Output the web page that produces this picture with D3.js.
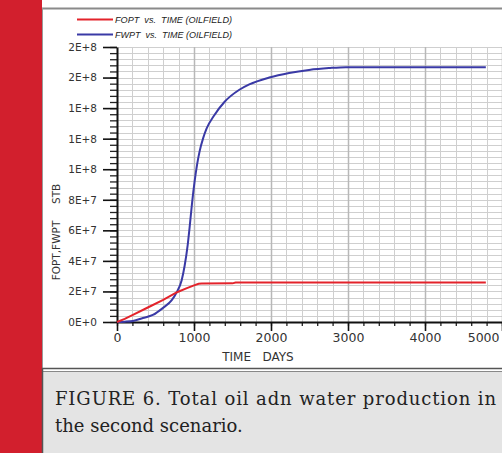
<!DOCTYPE html>
<html>
<head>
<meta charset="utf-8">
<script src="https://cdn.jsdelivr.net/npm/d3@7"></script>
<style>
  body { margin: 0; background: #fff; }
  svg { display: block; }
  .axis text { font-family: "DejaVu Sans", sans-serif; fill: #333; }
</style>
</head>
<body>
<main></main>
<script>
const width = 502;
const height = 453;

// FOPT (oil) cumulative
const foptDays = [0, 100, 200, 400, 600, 780, 900, 1000, 1060, 1100, 1500, 1540, 4790];
const foptValues = [0, 0.2e7, 0.45e7, 0.95e7, 1.45e7, 1.95e7, 2.2e7, 2.4e7, 2.5e7, 2.52e7, 2.53e7, 2.58e7, 2.58e7];

// FWPT (water) cumulative
const fwptDays = [0, 100, 207, 336, 465, 594, 711, 775, 840, 879, 917, 943, 975, 1008, 1040, 1072, 1120, 1163, 1266, 1395, 1589, 1718, 1977, 2235, 2494, 2752, 2972, 4790];
const fwptValues = [0, 0.02e7, 0.07e7, 0.26e7, 0.46e7, 0.91e7, 1.43e7, 1.95e7, 2.74e7, 3.7e7, 5.0e7, 6.2e7, 7.8e7, 9.2e7, 10.3e7, 11.15e7, 12.05e7, 12.65e7, 13.55e7, 14.4e7, 15.2e7, 15.55e7, 16.0e7, 16.3e7, 16.5e7, 16.62e7, 16.68e7, 16.68e7];

const xTickValues = [0, 1000, 2000, 3000, 4000, 5000];
const xTickLabels = ['0', '1000', '2000', '3000', '4000', '5000'];
const yTickValues = [0, 2e7, 4e7, 6e7, 8e7, 10e7, 12e7, 14e7, 16e7, 18e7];
const yTickLabels = ['0E+0', '2E+7', '4E+7', '6E+7', '8E+7', '1E+8', '1E+8', '1E+8', '2E+8', '2E+8'];

const legendLabels = ['FOPT  vs.  TIME (OILFIELD)', 'FWPT  vs.  TIME (OILFIELD)'];
const seriesColors = ['#e3232b', '#3a3aa6'];
const captionLines = ['FIGURE 6. Total oil adn water production in', 'the second scenario.'];

const svg = d3.select('main')
  .append('svg')
  .attr('width', width)
  .attr('height', height);

// page frame: red stripe, white panel, caption box
svg.append('rect').attr('x', 0).attr('y', 0).attr('width', width).attr('height', height).attr('fill', '#fff');
svg.append('rect').attr('x', 0).attr('y', 0).attr('width', 42).attr('height', height).attr('fill', '#d21f2d');
svg.append('line').attr('x1', 42).attr('x2', width).attr('y1', 8.5).attr('y2', 8.5).attr('stroke', '#8a8a8a').attr('stroke-width', 2);
svg.append('line').attr('x1', 42.5).attr('x2', 42.5).attr('y1', 8).attr('y2', height).attr('stroke', '#9a9a9a').attr('stroke-width', 1);
svg.append('rect').attr('x', 43).attr('y', 372).attr('width', width - 43).attr('height', height - 372).attr('fill', '#e4e4e4');
svg.append('line').attr('x1', 42).attr('x2', width).attr('y1', 368.5).attr('y2', 368.5).attr('stroke', '#555').attr('stroke-width', 1.5);
svg.append('line').attr('x1', 42).attr('x2', width).attr('y1', 371.5).attr('y2', 371.5).attr('stroke', '#888').attr('stroke-width', 1);
svg.append('line').attr('x1', 42.5).attr('x2', 42.5).attr('y1', 368).attr('y2', height).attr('stroke', '#555').attr('stroke-width', 1.5);

// caption, first line justified to the box width
const caption = svg.append('g')
  .attr('font-family', '"DejaVu Serif", serif')
  .attr('font-size', 18)
  .attr('fill', '#222');
caption.selectAll('text')
  .data(captionLines)
  .enter()
  .append('text')
  .attr('x', 55)
  .attr('y', (d, i) => 405 + i * 27)
  .each(function (d, i) {
    if (i === 0) d3.select(this).attr('textLength', 441).attr('lengthAdjust', 'spacing');
  })
  .text((d) => d);

const xScale = d3.scaleLinear().domain([0, 5000]).range([117, 502]);
const yScale = d3.scaleLinear().domain([0, 1.8e8]).range([322, 47]);

// grid
const grid = svg.append('g');
grid.selectAll('.hgrid')
  .data(d3.range(4e6, 1.8e8 + 1, 4e6))
  .enter()
  .append('line')
  .attr('x1', 117).attr('x2', width)
  .attr('y1', (d) => Math.round(yScale(d)) + 0.5)
  .attr('y2', (d) => Math.round(yScale(d)) + 0.5)
  .attr('stroke', '#cfcfcf')
  .attr('stroke-width', 1);
grid.selectAll('.vgrid')
  .data(d3.range(200, 5001, 200))
  .enter()
  .append('line')
  .attr('x1', (d) => Math.round(xScale(d)) + 0.5)
  .attr('x2', (d) => Math.round(xScale(d)) + 0.5)
  .attr('y1', 47).attr('y2', 322)
  .attr('stroke', (d) => d % 1000 === 0 ? '#b8b8b8' : '#cfcfcf')
  .attr('stroke-width', (d) => d % 1000 === 0 ? 1.5 : 1);

// axes
const yMinor = svg.append('g')
  .attr('class', 'axis')
  .attr('transform', 'translate(117, 0)')
  .call(d3.axisLeft(yScale).tickValues(d3.range(0, 1.8e8 + 1, 4e6)).tickSize(7).tickSizeOuter(0).tickFormat(''));
yMinor.select('.domain').remove();
yMinor.selectAll('line').attr('stroke', '#222').attr('stroke-width', 1.3);

const yAxis = svg.append('g')
  .attr('class', 'axis')
  .attr('transform', 'translate(117, 0)')
  .call(d3.axisLeft(yScale).tickValues(yTickValues).tickSize(14).tickSizeOuter(0).tickPadding(6)
    .tickFormat((d, i) => yTickLabels[i]));
yAxis.selectAll('text').attr('font-size', 10.5);
yAxis.selectAll('line').attr('stroke', '#111').attr('stroke-width', 1.6);
yAxis.select('.domain').attr('stroke', '#111').attr('stroke-width', 2);

const xMinor = svg.append('g')
  .attr('class', 'axis')
  .attr('transform', 'translate(0, 322)')
  .call(d3.axisBottom(xScale).tickValues(d3.range(0, 5001, 200)).tickSize(4).tickSizeOuter(0).tickFormat(''));
xMinor.select('.domain').remove();
xMinor.selectAll('line').attr('stroke', '#222').attr('stroke-width', 1.3);

const xAxis = svg.append('g')
  .attr('class', 'axis')
  .attr('transform', 'translate(0, 322)')
  .call(d3.axisBottom(xScale).tickValues(xTickValues).tickSize(9).tickSizeOuter(0).tickPadding(2)
    .tickFormat((d, i) => xTickLabels[i]));
xAxis.selectAll('text').attr('font-size', 12.5);
xAxis.selectAll('.tick').filter((d) => d === 5000).select('text').attr('text-anchor', 'end').attr('dx', -3);
xAxis.selectAll('line').attr('stroke', '#111').attr('stroke-width', 1.6);
xAxis.select('.domain').attr('stroke', '#111').attr('stroke-width', 2);

// axis titles
svg.append('text')
  .attr('x', 258).attr('y', 361)
  .attr('text-anchor', 'middle')
  .attr('font-family', '"DejaVu Sans", sans-serif')
  .attr('font-size', 12)
  .attr('fill', '#333')
  .style('white-space', 'pre')
  .text('TIME   DAYS');
svg.append('text')
  .attr('transform', 'translate(60, 232) rotate(-90)')
  .attr('text-anchor', 'middle')
  .attr('font-family', '"DejaVu Sans", sans-serif')
  .attr('font-size', 10.5)
  .attr('fill', '#333')
  .style('white-space', 'pre')
  .text('FOPT,FWPT     STB');

// series
const line = d3.line()
  .x((d) => xScale(d[0]))
  .y((d) => yScale(d[1]));
const smoothLine = d3.line()
  .x((d) => xScale(d[0]))
  .y((d) => yScale(d[1]))
  .curve(d3.curveMonotoneX);

svg.append('path')
  .datum(fwptDays.map((d, i) => [d, fwptValues[i]]))
  .attr('d', smoothLine)
  .attr('fill', 'none')
  .attr('stroke', seriesColors[1])
  .attr('stroke-width', 2);
svg.append('path')
  .datum(foptDays.map((d, i) => [d, foptValues[i]]))
  .attr('d', line)
  .attr('fill', 'none')
  .attr('stroke', seriesColors[0])
  .attr('stroke-width', 2);

// legend
const legend = svg.append('g');
legend.selectAll('line')
  .data(legendLabels)
  .enter()
  .append('line')
  .attr('x1', 77).attr('x2', 113)
  .attr('y1', (d, i) => 19.5 + i * 15)
  .attr('y2', (d, i) => 19.5 + i * 15)
  .attr('stroke', (d, i) => seriesColors[i])
  .attr('stroke-width', 2);
legend.selectAll('text')
  .data(legendLabels)
  .enter()
  .append('text')
  .attr('x', 115)
  .attr('y', (d, i) => 22.5 + i * 15)
  .attr('font-family', '"Liberation Sans", sans-serif')
  .attr('font-style', 'italic')
  .attr('font-size', 8.5)
  .attr('fill', '#222')
  .attr('textLength', 117)
  .attr('lengthAdjust', 'spacingAndGlyphs')
  .style('white-space', 'pre')
  .text((d) => d);
</script>
</body>
</html>
